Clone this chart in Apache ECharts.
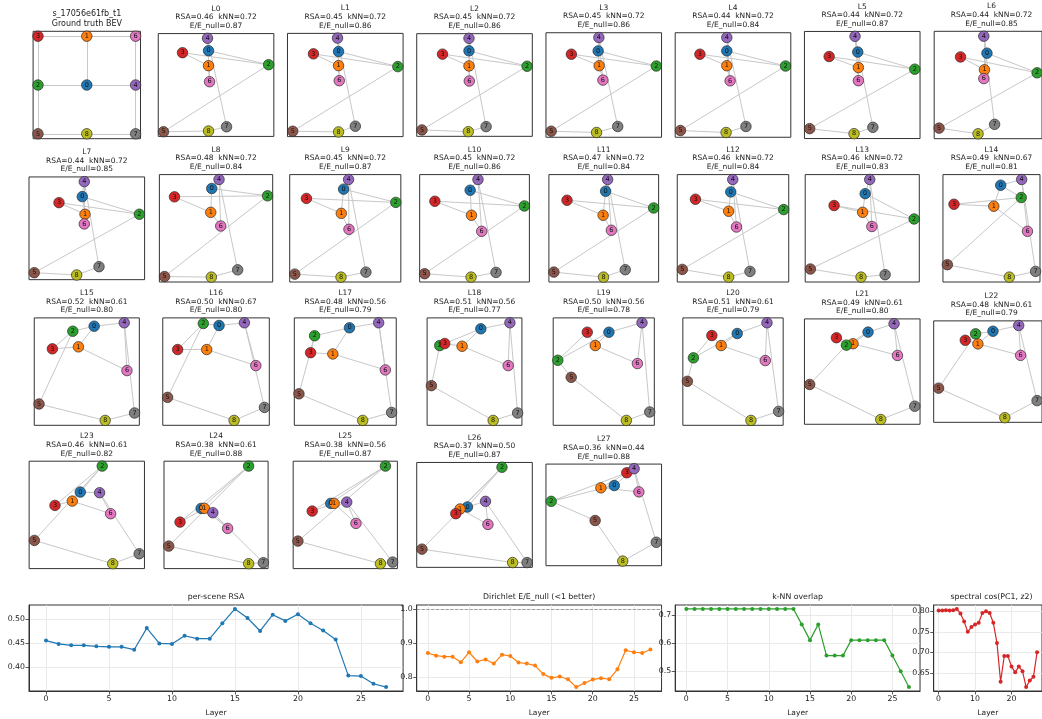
<!DOCTYPE html>
<html>
<head>
<meta charset="utf-8">
<title>per-scene BEV embedding by layer</title>
<script src="https://cdn.jsdelivr.net/npm/echarts@6.0.0/dist/echarts.min.js"></script>
<style>
  html, body { margin: 0; padding: 0; background: #fff; }
  #chart { width: 1042px; height: 719px; }
</style>
</head>
<body>
<div id="chart"></div>
<script>
// ---- data ----
const sceneName = 's_17056e61fb_t1';
const layers = [0, 1, 2, 3, 4, 5, 6, 7, 8, 9, 10, 11, 12, 13, 14, 15, 16, 17, 18, 19, 20, 21, 22, 23, 24, 25, 26, 27];

// ground-truth adjacency (node pairs), drawn in every panel
const edges = [[3, 1], [1, 6], [3, 2], [2, 5], [1, 0], [6, 4], [2, 0], [0, 4], [4, 7], [5, 8], [8, 7]];

// ground truth BEV: 3x3 grid, [x, y] with y growing downward
const gtNodes = [[1, 1], [1, 0], [0, 1], [0, 0], [2, 1], [0, 2], [2, 0], [2, 2], [1, 2]];

// 2-D projection of nodes 0..8 for each layer (y grows downward)
const layerNodes = [
  [[208.3, 50.7], [208.3, 65.7], [268.3, 64.7], [182.3, 52.7], [207.3, 38.3], [163.3, 131.7], [209.3, 81.7], [226.3, 126.7], [208.3, 131]],
  [[338.3, 51.7], [338.3, 65.7], [397.3, 66.7], [313.3, 54], [337.3, 38.3], [292.7, 131], [339, 80.7], [355, 126], [338.3, 131.7]],
  [[469, 50.7], [469, 65.7], [526.7, 66], [442.7, 54], [469, 38.3], [422.3, 129.3], [469.3, 80.7], [486, 126], [468.3, 131]],
  [[598.3, 51], [599.3, 65.7], [656, 66], [571.7, 54.3], [599, 37.7], [551.7, 130.7], [603, 80], [617.7, 126], [596.7, 132]],
  [[726.7, 51], [726.7, 65.7], [785, 66], [700, 54.3], [726.7, 37.7], [680.7, 130], [730, 80.7], [745.7, 126], [726, 132]],
  [[857.7, 52.3], [858.3, 67.7], [914.3, 69.3], [829.3, 56.7], [855, 36.7], [810, 128.3], [858.3, 80.7], [872.7, 127], [854, 133.3]],
  [[989.3, 54], [986.7, 70.3], [1041.7, 73.3], [961.7, 57.7], [986, 37.3], [939.3, 127.7], [986, 79], [997.3, 124], [980, 133.3]],
  [[82.3, 196.7], [85, 214.3], [139.3, 214.3], [59, 202.7], [84.3, 181.7], [34.3, 272.7], [84.3, 224], [99, 266.7], [76.7, 275]],
  [[211.7, 188.3], [210.7, 212.3], [267.7, 195.7], [174.3, 196.7], [219, 179.3], [164.3, 276.7], [220.7, 226], [237.7, 270], [211.3, 277.3]],
  [[343.3, 189], [341, 213.3], [395.7, 202.3], [306, 198.3], [348.3, 179.3], [294.3, 274.3], [348.7, 229.3], [365.7, 272.3], [340.7, 277.3]],
  [[470.8, 190], [472.1, 215], [524.9, 205.7], [435.6, 201], [478.6, 179.3], [425.4, 273.3], [482.3, 231], [496.6, 272], [471.7, 276.7]],
  [[606, 191], [603.5, 215], [653.9, 207.7], [567.5, 200], [608, 179.3], [554.4, 271.7], [611.7, 230], [625.6, 269.3], [603.9, 276.7]],
  [[730.9, 191.7], [728.8, 211], [783.7, 209.3], [695.7, 199], [732.9, 179.3], [682.6, 269], [736.6, 226.7], [750.1, 271], [728.8, 276.7]],
  [[865.6, 193.3], [863.1, 211.7], [913.9, 218.3], [834.9, 205], [870.1, 179.3], [811.5, 267.7], [872.2, 225.7], [885.3, 273.3], [861.5, 275.7]],
  [[1000.7, 185], [993.8, 206], [1021.2, 197.3], [954.1, 204], [1021.6, 179.3], [947.5, 264.3], [1027.4, 231], [1035.5, 271], [1009.3, 276.7]],
  [[94, 326.7], [78.3, 347.3], [72.7, 331.7], [52.3, 349.3], [124, 323.3], [39, 404.3], [126.7, 371], [134.3, 413.3], [105, 420.7]],
  [[219, 326], [206.7, 350], [203.3, 324], [177.7, 350], [244.3, 323.3], [167.7, 397.7], [255.7, 366], [264.3, 407.7], [234, 420.7]],
  [[350, 327.7], [333.3, 354], [315, 335.7], [311, 352.7], [379.3, 322.7], [299.3, 394], [386, 370], [392.3, 412.7], [363.3, 420.7]],
  [[481, 329.3], [462.3, 346.7], [440, 346], [445, 344], [510, 323.3], [431.7, 386], [508.3, 366], [517.7, 413.3], [493.3, 420.7]],
  [[609.3, 332.7], [595.7, 346], [558.3, 360.7], [587.7, 332.7], [642.3, 323.3], [571.7, 377.7], [637.7, 364], [650, 412.3], [626.7, 420.7]],
  [[737, 334], [721, 346], [693.3, 358.3], [711.7, 336], [766.7, 323.3], [687.3, 381.7], [765, 361], [778.3, 411.7], [750.7, 420.7]],
  [[868.3, 332.7], [853.3, 344.3], [846.7, 345.7], [836.7, 338.3], [894.3, 324.3], [810, 385], [897.7, 356], [915, 406.7], [881, 420]],
  [[996.7, 331.7], [980.7, 344.3], [978.3, 334.3], [967.3, 340.7], [1024, 326], [939, 388.3], [1026, 355.7], [1043.5, 400.7], [1009.3, 417.7]],
  [[80.4, 492.7], [72.4, 501.7], [102.3, 466.7], [55.1, 506], [99.7, 493.3], [34.5, 541], [110.7, 514.3], [139.3, 554.3], [112.8, 564.3]],
  [[200.8, 509], [204.1, 509], [248.3, 466.7], [179.7, 522.7], [212.5, 513.3], [168.4, 546.7], [227.3, 529], [263, 563.3], [248.3, 564.3]],
  [[330.4, 504], [333.8, 504], [385.1, 466.7], [311.9, 511.7], [346.4, 502.7], [297.6, 541.7], [355.6, 524], [392.3, 562.7], [380.1, 564.3]],
  [[467.3, 507.3], [460, 509.3], [501.7, 467.7], [455.7, 514], [485.3, 501.7], [422, 549.3], [487.7, 524.7], [526.7, 562.7], [512.3, 562.7]],
  [[614.3, 486], [601, 488.3], [551.7, 501.7], [626.7, 473.3], [634, 469.3], [595.3, 520.7], [638.7, 492.3], [656, 542.3], [622.7, 561]]
];

const rsa = [0.456, 0.449, 0.446, 0.446, 0.444, 0.443, 0.443, 0.437, 0.482, 0.450, 0.449, 0.466, 0.460, 0.460,
  0.492, 0.522, 0.503, 0.476, 0.510, 0.497, 0.511, 0.492, 0.477, 0.458, 0.383, 0.382, 0.366, 0.359];
const energyRatio = [0.871, 0.863, 0.860, 0.860, 0.844, 0.873, 0.846, 0.852, 0.840, 0.866, 0.862, 0.843, 0.840, 0.834,
  0.809, 0.798, 0.802, 0.794, 0.771, 0.783, 0.793, 0.797, 0.794, 0.823, 0.879, 0.873, 0.871, 0.881];
const energyReference = 1.0;
const knnOverlap = [0.722, 0.722, 0.722, 0.722, 0.722, 0.722, 0.722, 0.722, 0.722, 0.722, 0.722, 0.722, 0.722, 0.722,
  0.667, 0.611, 0.667, 0.556, 0.556, 0.556, 0.611, 0.611, 0.611, 0.611, 0.611, 0.556, 0.500, 0.444];
const spectralCos = [0.802, 0.802, 0.803, 0.802, 0.803, 0.806, 0.795, 0.775, 0.750, 0.762, 0.768, 0.772, 0.796, 0.800,
  0.796, 0.772, 0.723, 0.628, 0.691, 0.691, 0.665, 0.651, 0.665, 0.654, 0.615, 0.631, 0.640, 0.700];

const layerTicks = [0, 5, 10, 15, 20, 25];
const layerTicksSparse = [0, 10, 20];
const rsaTicks = [0.40, 0.45, 0.50];
const energyTicks = [0.8, 0.9, 1.0];
const knnTicks = [0.5, 0.6, 0.7];
const spectralTicks = [0.65, 0.70, 0.75, 0.80];

// ---- layout / style ----
const FONT = 'DejaVu Sans';
const TAB10 = ['#1f77b4', '#ff7f0e', '#2ca02c', '#d62728', '#9467bd', '#8c564b', '#e377c2', '#7f7f7f', '#bcbd22', '#17becf'];
const COL0 = 86.8, COL_STEP = 129.24;   // panel column centres
const ROW0 = 85, ROW_STEP = 143.3;      // panel row centres
const CELL_W = 115.6, CELL_H = 107.4;   // largest axes box in a cell

const grid = [], xAxis = [], yAxis = [], title = [], series = [];

// one equal-aspect scatter panel (like matplotlib aspect='equal', 5% margins)
function addPanel(nodes, idx, text, fontSize, lineHeight) {
  const xs = nodes.map(p => p[0]), ys = nodes.map(p => p[1]);
  const x0 = Math.min(...xs), x1 = Math.max(...xs);
  const y0 = Math.min(...ys), y1 = Math.max(...ys);
  const dx = x1 - x0, dy = y1 - y0;
  const s = Math.min(CELL_W / (dx * 1.1), CELL_H / (dy * 1.1));
  const w = dx * 1.1 * s, h = dy * 1.1 * s;
  const cx = COL0 + (idx % 8) * COL_STEP;
  const cy = ROW0 + Math.floor(idx / 8) * ROW_STEP;
  const top = cy - h / 2;
  const gi = grid.length;

  grid.push({ left: cx - w / 2, top, width: w, height: h, show: true, borderColor: '#333', borderWidth: 1 });
  xAxis.push({ type: 'value', gridIndex: gi, min: x0 - 0.05 * dx, max: x1 + 0.05 * dx, show: false });
  yAxis.push({ type: 'value', gridIndex: gi, min: y0 - 0.05 * dy, max: y1 + 0.05 * dy, inverse: true, show: false });

  const nLines = text.split('\n').length;
  title.push({
    text, left: cx, top: top - 7.5 - (nLines - 0.5) * lineHeight, textAlign: 'center', padding: 0,
    textStyle: { fontSize, lineHeight, fontWeight: 'normal', color: '#222', fontFamily: FONT }
  });

  series.push({
    type: 'graph', coordinateSystem: 'cartesian2d', xAxisIndex: gi, yAxisIndex: gi,
    layout: 'none', symbol: 'circle', symbolSize: 10.5, silent: true, animation: false,
    edgeSymbol: ['none', 'none'],
    itemStyle: { borderColor: '#2a2a2a', borderWidth: 0.7 },
    label: { show: true, position: 'inside', formatter: '{b}', fontSize: 6.5, color: '#111', fontFamily: FONT },
    lineStyle: { color: '#c8c8c8', width: 1, opacity: 1, curveness: 0 },
    emphasis: { disabled: true },
    data: nodes.map((p, i) => ({ name: String(i), value: p, itemStyle: { color: TAB10[i] } })),
    links: edges.map(([a, b]) => ({ source: a, target: b }))
  });
}

addPanel(gtNodes, 0, sceneName + '\nGround truth BEV', 8, 10);
layerNodes.forEach((nodes, k) => {
  const text = 'L' + k + '\nRSA=' + rsa[k].toFixed(2) + '  kNN=' + knnOverlap[k].toFixed(2) +
    '\nE/E_null=' + energyRatio[k].toFixed(2);
  addPanel(nodes, k + 1, text, 7.5, 8.7);
});

// bottom row: metric vs layer
const tickText = { fontSize: 7.8, color: '#222', fontFamily: FONT };
const nameText = { fontSize: 7.5, color: '#222', fontFamily: FONT };
function addLine(name, values, color, c0, c1, xTicks, yTicks, digits, ref) {
  const gi = grid.length;
  const left = COL0 + c0 * COL_STEP - CELL_W / 2;
  const width = (c1 - c0) * COL_STEP + CELL_W;
  grid.push({ left, top: 605, width, height: 86, show: true, borderColor: '#333', borderWidth: 1 });

  const lx = Math.min(...layers), hx = Math.max(...layers), px = 0.05 * (hx - lx);
  const all = ref != null ? values.concat([ref]) : values;
  const lo = Math.min(...all), hi = Math.max(...all), py = 0.05 * (hi - lo);

  xAxis.push({
    type: 'value', gridIndex: gi, min: lx - px, max: hx + px,
    name: 'Layer', nameLocation: 'middle', nameGap: 18, nameTextStyle: nameText,
    axisLine: { show: true, onZero: false, lineStyle: { color: '#333', width: 1 } },
    axisTick: { show: true, length: 3.5, customValues: xTicks, lineStyle: { color: '#333', width: 0.8 } },
    axisLabel: { show: true, customValues: xTicks, margin: 4, ...tickText },
    splitLine: { show: true, lineStyle: { color: '#e4e4e4', width: 0.8 } }
  });
  yAxis.push({
    type: 'value', gridIndex: gi, min: lo - py, max: hi + py,
    axisLine: { show: true, onZero: false, lineStyle: { color: '#333', width: 1 } },
    axisTick: { show: true, length: 3.5, customValues: yTicks, lineStyle: { color: '#333', width: 0.8 } },
    axisLabel: { show: true, customValues: yTicks, margin: 4, formatter: v => v.toFixed(digits), ...tickText },
    splitLine: { show: true, lineStyle: { color: '#e4e4e4', width: 0.8 } }
  });
  title.push({
    text: name, left: left + width / 2, top: 593, textAlign: 'center', padding: 0,
    textStyle: { fontSize: 7.8, fontWeight: 'normal', color: '#222', fontFamily: FONT }
  });

  const s = {
    type: 'line', xAxisIndex: gi, yAxisIndex: gi, animation: false, silent: true,
    data: layers.map((l, i) => [l, values[i]]),
    symbol: 'circle', symbolSize: 4, showSymbol: true,
    lineStyle: { color, width: 1.2 }, itemStyle: { color }
  };
  if (ref != null) {
    s.markLine = {
      silent: true, symbol: ['none', 'none'], label: { show: false },
      lineStyle: { color: '#888', type: 'dashed', width: 0.8 },
      data: [{ yAxis: ref }]
    };
  }
  series.push(s);
}

addLine('per-scene RSA', rsa, '#1f77b4', 0, 2, layerTicks, rsaTicks, 2);
addLine('Dirichlet E/E_null (<1 better)', energyRatio, '#ff7f0e', 3, 4, layerTicks, energyTicks, 1, energyReference);
addLine('k-NN overlap', knnOverlap, '#2ca02c', 5, 6, layerTicks, knnTicks, 1);
addLine('spectral cos(PC1, z2)', spectralCos, '#d62728', 7, 7, layerTicksSparse, spectralTicks, 2);

const chart = echarts.init(document.getElementById('chart'), null, { renderer: 'canvas' });
chart.setOption({
  backgroundColor: '#fff',
  animation: false,
  textStyle: { fontFamily: FONT },
  title, grid, xAxis, yAxis, series
});
</script>
</body>
</html>
